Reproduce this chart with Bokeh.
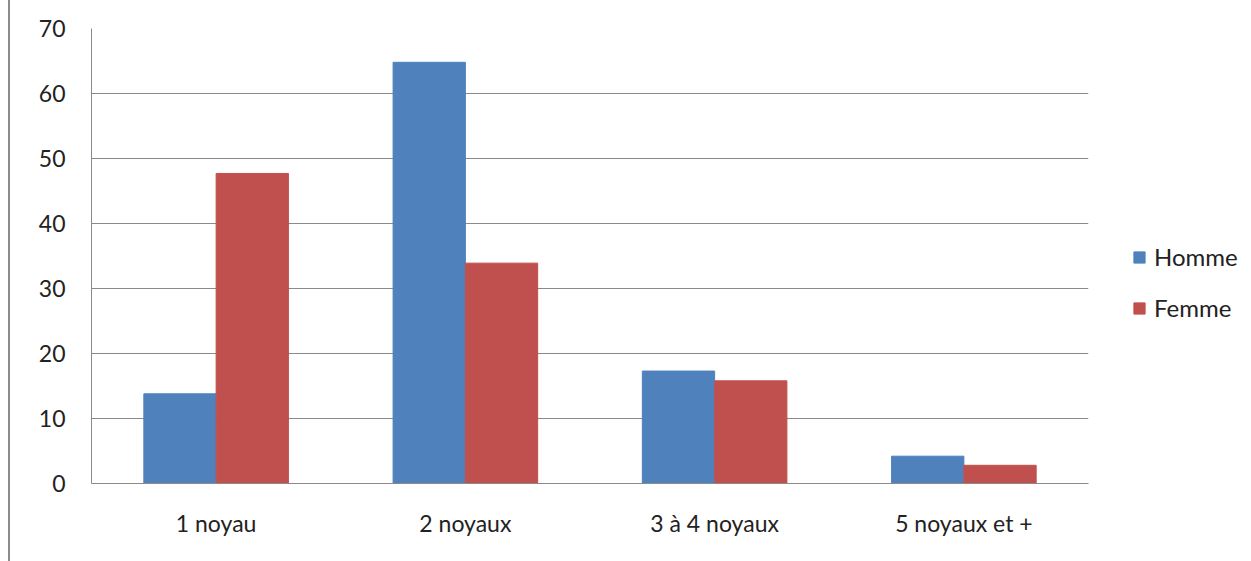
from bokeh.plotting import figure
from bokeh.models import FactorRange, Legend, LegendItem, ColumnDataSource
from bokeh.transform import dodge
from bokeh.embed import file_html
from bokeh.resources import INLINE

categories = ["1 noyau", "2 noyaux", "3 à 4 noyaux", "5 noyaux et +"]
homme = [13.8, 64.8, 17.3, 4.2]
femme = [47.7, 33.9, 15.8, 2.8]
y_ticks = [0, 10, 20, 30, 40, 50, 60, 70]

FONT = "Lato"
src = ColumnDataSource(dict(cat=categories, homme=homme, femme=femme))

p = figure(x_range=FactorRange(*categories), y_range=(0, 70),
           frame_width=997, frame_height=455, output_backend="svg", toolbar_location=None,
           min_border_left=81, min_border_right=0, min_border_top=28, min_border_bottom=78)
p.styles = {"border-left": "2px solid #8c8c8c", "margin-left": "8px"}
p.outline_line_color = None

r1 = p.vbar(x=dodge("cat", -0.145, range=p.x_range), top="homme", width=0.29,
            source=src, fill_color="#4F81BD", line_color="#4F81BD")
r2 = p.vbar(x=dodge("cat", 0.145, range=p.x_range), top="femme", width=0.29,
            source=src, fill_color="#C0504D", line_color="#C0504D")

p.yaxis.ticker = y_ticks
p.ygrid.grid_line_color = "#8a8a8a"
p.xgrid.grid_line_color = None
for ax in (p.xaxis[0], p.yaxis[0]):
    ax.axis_line_color = "#8a8a8a"
    ax.major_tick_line_color = None
    ax.minor_tick_line_color = None
    ax.major_tick_in = 0
    ax.major_tick_out = 0
    ax.major_label_text_font = FONT
    ax.major_label_text_font_size = "23px"
    ax.major_label_text_color = "#222222"
p.yaxis.major_label_standoff = 26
p.xaxis.major_label_standoff = 25
p.x_range.range_padding = 0
p.x_range.group_padding = 0

legend = Legend(items=[LegendItem(label="Homme", renderers=[r1]),
                       LegendItem(label="Femme", renderers=[r2])],
                location=(44, 161), border_line_color=None,
                label_text_font=FONT, label_text_font_size="24px",
                label_text_color="#222222",
                glyph_width=14, glyph_height=14, spacing=22, label_standoff=8,
                padding=0, margin=0)
p.add_layout(legend, "right")

open("out.html", "w").write(file_html(p, INLINE))
